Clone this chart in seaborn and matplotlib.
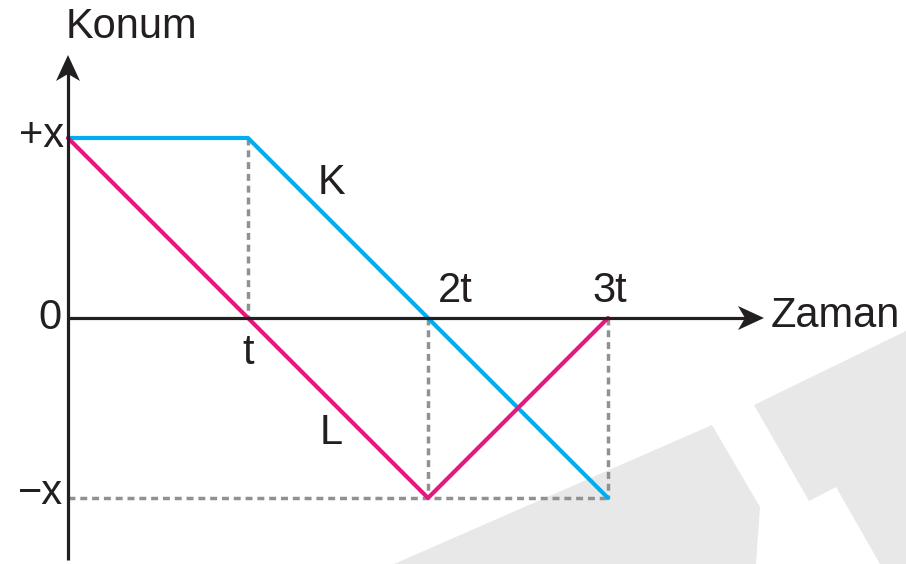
import matplotlib
matplotlib.use("Agg")
import matplotlib.pyplot as plt
import seaborn as sns
import pandas as pd

# ---- data (time in units of t, position in units of x) ----
k_time = [0, 1, 3]
k_pos = [1, 1, -1]
l_time = [0, 2, 3]
l_pos = [1, -1, 0]
x_tick_labels = ["t", "2t", "3t"]
y_tick_labels = ["+x", "0", "\u2212x"]
series_names = ["K", "L"]

df = pd.DataFrame({
    "time": k_time + l_time,
    "pos": k_pos + l_pos,
    "body": [series_names[0]] * len(k_time) + [series_names[1]] * len(l_time),
})

sns.set_theme(style="white")
plt.rcParams["font.family"] = ["Liberation Sans", "DejaVu Sans"]

W, H = 906, 564
fig = plt.figure(figsize=(W / 100, H / 100), dpi=100)
ax = fig.add_axes([0, 0, 1, 1])

X0, Y0, S = 68, 318, 180.0  # pixel origin and pixels per unit


def px(xp, yp):
    return (xp - X0) / S, (Y0 - yp) / S


ax.set_xlim(px(0, 0)[0], px(W, 0)[0])
ax.set_ylim(px(0, H)[1], px(0, 0)[1])
ax.set_axis_off()

# watermark shapes
grey = "#e8e8e8"
polyA = [(394, 564), (712, 425), (760, 507), (756, 564)]
polyB = [(754, 405), (906, 331), (906, 564), (880, 564), (836, 487), (809, 501)]
for poly in (polyA, polyB):
    pts = [px(a, b) for a, b in poly]
    ax.fill([p[0] for p in pts], [p[1] for p in pts], color=grey, lw=0, zorder=0)

# dashed guides
gcol = "#8f9194"
dash = dict(color=gcol, lw=2.5, ls=(0, (2.0, 1.4)), zorder=1, solid_capstyle="butt")
ax.plot([1, 1], [1, 0], **dash)
ax.plot([2, 2], [0, -1], **dash)
ax.plot([3, 3], [0, -1], **dash)
ax.plot([0, 3], [-1, -1], **dash)

# axes with notched arrowheads
black = "#231f20"
ax.plot([0, 0], [px(0, 560)[1], px(0, 70)[1]], color=black, lw=2.3, zorder=3,
        solid_capstyle="butt")
ax.plot([0, px(750, 0)[0]], [0, 0], color=black, lw=2.3, zorder=3,
        solid_capstyle="butt")


def head(tip, direction):
    tx, ty = tip
    L, Wd, N = 26, 12, 7
    if direction == "up":
        pts = [(tx, ty), (tx - Wd, ty + L), (tx, ty + L - N), (tx + Wd, ty + L)]
    else:
        pts = [(tx, ty), (tx - L, ty - Wd), (tx - L + N, ty), (tx - L, ty + Wd)]
    d = [px(a, b) for a, b in pts]
    ax.fill([p[0] for p in d], [p[1] for p in d], color=black, lw=0, zorder=3)


head((68, 55), "up")
head((764, 320 - 2), "right")

# lines
sns.lineplot(data=df, x="time", y="pos", hue="body",
             palette={"K": "#00aeef", "L": "#e6187f"},
             lw=3.0, legend=False, ax=ax, zorder=2, sort=False, estimator=None)

fs = 30
tk = dict(color=black, fontsize=fs, zorder=4)
ax.text(*px(131, 27), "Konum", ha="center", va="center", **tk)
ax.text(*px(835, 316), "Zaman", ha="center", va="center", **tk)
ax.text(*px(64, 136), y_tick_labels[0], ha="right", va="center", **tk)
ax.text(*px(61, 318), y_tick_labels[1], ha="right", va="center", **tk)
ax.text(*px(63, 493), y_tick_labels[2], ha="right", va="center", **tk)
ax.text(*px(248, 353), x_tick_labels[0], ha="center", va="center", **tk)
ax.text(*px(455, 291), x_tick_labels[1], ha="center", va="center", **tk)
ax.text(*px(610, 291), x_tick_labels[2], ha="center", va="center", **tk)
ax.text(*px(331, 183), series_names[0], ha="center", va="center", **tk)
ax.text(*px(331, 433), series_names[1], ha="center", va="center", **tk)

fig.savefig("out.png", dpi=100, facecolor="white")
